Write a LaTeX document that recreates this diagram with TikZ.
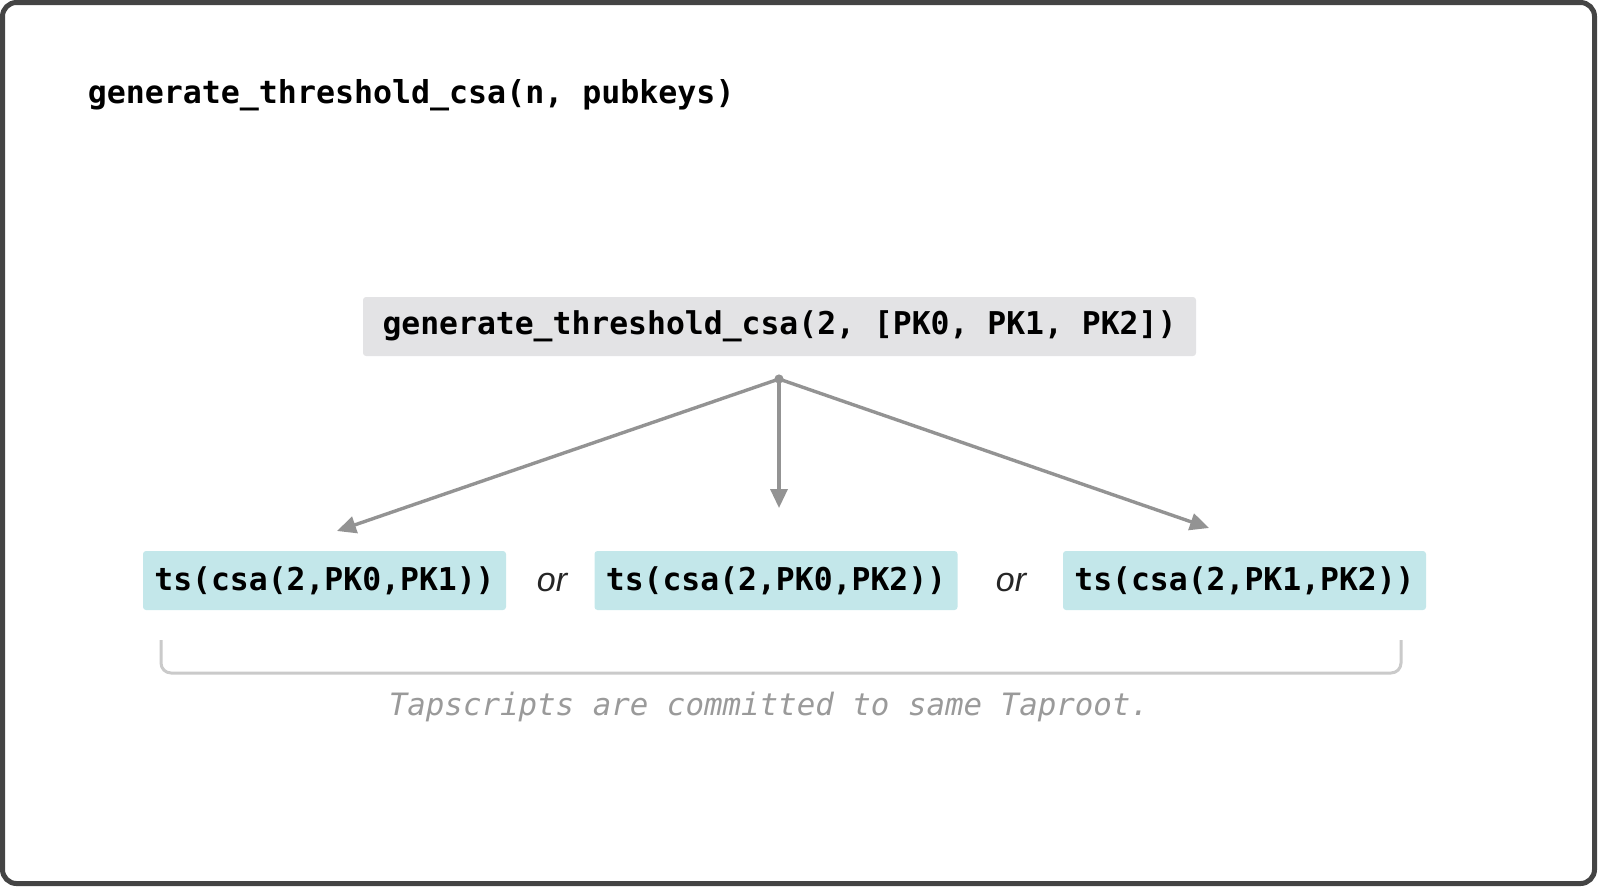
\documentclass[tikz,border=0pt]{standalone}
\usepackage{fontspec}
\setmonofont{DejaVu Sans Mono}
\newfontfamily\orfont{Liberation Sans}
\usetikzlibrary{arrows.meta}

\definecolor{framegray}{RGB}{68,68,68}
\definecolor{callgray}{RGB}{227,227,229}
\definecolor{tsblue}{RGB}{195,231,234}
\definecolor{arrowgray}{RGB}{147,147,147}
\definecolor{bracegray}{RGB}{202,202,202}
\definecolor{notegray}{RGB}{154,154,154}

\tikzset{
	codebox/.style={rounded corners=1.5pt, inner sep=0pt, font=\ttfamily\bfseries\fontsize{15.7}{18}\selectfont},
	callbox/.style={codebox, fill=callgray, minimum width=416.5pt, minimum height=29.5pt},
	tsbox/.style={codebox, fill=tsblue, minimum width=181.5pt, minimum height=29.5pt},
	ortext/.style={inner sep=0pt, text=black!85, font=\orfont\itshape\fontsize{17}{20}\selectfont},
	branch/.style={arrowgray, line width=1.7pt, -{Triangle[length=9.5pt,width=8.5pt]}}}
\tikzset{every picture/.style={line width=0.75pt}}

\begin{document}
\begin{tikzpicture}[x=0.5pt,y=-0.5pt]
	\useasboundingbox (0,0) rectangle (1600,890);
	
	%Frame
	\draw [framegray, line width=2.5pt, rounded corners=7pt] (2.5,2.5) rectangle (1594.5,883.5);
	
	% Text Node
	\node (title) [anchor=west, inner sep=0pt, font=\ttfamily\bfseries\fontsize{15.8}{18}\selectfont] at (87,95) {generate\_threshold\_csa(n, pubkeys)};
	
	% Call box
	\node (call) [callbox] at (779.5,326.5) {\raisebox{-1pt}{generate\_threshold\_csa(2, [PK0, PK1, PK2])}};
	
	% Tapscript boxes
	\node (tsA) [tsbox] at (324.5,580.5) {\raisebox{-1pt}{ts(csa(2,PK0,PK1))}};
	\node (tsB) [tsbox] at (776,580.5) {\raisebox{-1pt}{ts(csa(2,PK0,PK2))}};
	\node (tsC) [tsbox] at (1244.5,580.5) {\raisebox{-1pt}{ts(csa(2,PK1,PK2))}};
	\node (orA) [ortext] at (552,583) {or};
	\node (orB) [ortext] at (1011,583) {or};
	
	% Branches
	\coordinate (split) at (779,379);
	\coordinate (tipA) at (337,531);
	\coordinate (tipB) at (779,508);
	\coordinate (tipC) at (1209,528);
	\fill [arrowgray] (split) circle (2.3pt);
	\draw [branch] (split) -- (tipA);
	\draw [branch] (split) -- (tipB);
	\draw [branch] (split) -- (tipC);
	
	% Bracket
	\draw [bracegray, line width=1.5pt, rounded corners=5pt] (161,640) -- (161,673) -- (1401,673) -- (1401,640);
	
	% Text Node
	\node (note) [inner sep=0pt, text=notegray, font=\ttfamily\itshape\fontsize{15.4}{18}\selectfont] at (769,707) {Tapscripts are committed to same Taproot.};
	
\end{tikzpicture}
\end{document}
